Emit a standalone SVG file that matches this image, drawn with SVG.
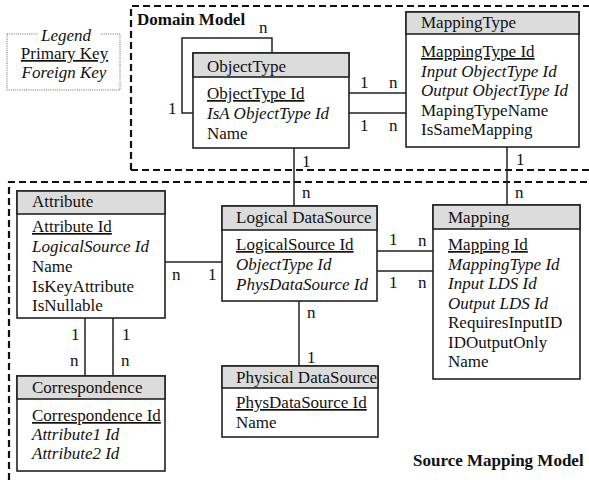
<svg xmlns="http://www.w3.org/2000/svg" width="589" height="480" viewBox="0 0 589 480">
<style>
text{font-family:"Liberation Serif","Times New Roman",serif;font-size:17px;fill:#111}
.it{font-style:italic}
.pk{text-decoration:underline}
.b{font-weight:bold}
.box{fill:#fff;stroke:#222;stroke-width:1.6}
.hdr{fill:#dcdcdc;stroke:#222;stroke-width:1.6}
.con{fill:none;stroke:#222;stroke-width:1.5}
.zone{fill:none;stroke:#111;stroke-width:2.2;stroke-dasharray:7 4}
</style>
<rect width="589" height="480" fill="#fff"/>
<g id="legend">
<rect x="7" y="34" width="113" height="56" fill="none" stroke="#666" stroke-width="1" stroke-dasharray="1 1.2"/>
<rect x="38" y="28" width="62" height="12" fill="#fff"/>
<text x="66" y="41" class="it" text-anchor="middle">Legend</text>
<text x="64.5" y="59" class="pk" text-anchor="middle">Primary Key</text>
<text x="64" y="78" class="it" text-anchor="middle">Foreign Key</text>
</g>
<g id="zones">
<path class="zone" d="M131,170 V6 H589 M131,170 H589"/>
<path class="zone" d="M9,480 V182 H589"/>
<text x="137" y="25" class="b">Domain Model</text>
<text x="413" y="466" class="b">Source Mapping Model</text>
</g>
<g id="connectors">
<path class="con" d="M272,53 V38 H182 V113 H193"/>
<path class="con" d="M349,93 H406 M349,113 H406"/>
<path class="con" d="M294,148 V206"/>
<path class="con" d="M507,147 V205"/>
<path class="con" d="M165,262 H222"/>
<path class="con" d="M377,251 H433 M377,271 H433"/>
<path class="con" d="M299,301 V366"/>
<path class="con" d="M85,318 V376 M113,318 V376"/>
<text x="259" y="33">n</text>
<text x="168" y="114">1</text>
<text x="360" y="88">1</text>
<text x="389" y="88">n</text>
<text x="360" y="131">1</text>
<text x="389" y="131">n</text>
<text x="302" y="167">1</text>
<text x="302" y="198">n</text>
<text x="516" y="165">1</text>
<text x="515" y="198">n</text>
<text x="172" y="280">n</text>
<text x="208" y="280">1</text>
<text x="389" y="245">1</text>
<text x="418" y="246">n</text>
<text x="389" y="288">1</text>
<text x="418" y="288">n</text>
<text x="307" y="318">n</text>
<text x="307" y="363">1</text>
<text x="71" y="340">1</text>
<text x="70" y="366">n</text>
<text x="122" y="340">1</text>
<text x="121" y="366">n</text>
</g>
<g id="ObjectType">
<rect class="box" x="193" y="53" width="156" height="95"/>
<rect class="hdr" x="193" y="53" width="156" height="24"/>
<text x="207" y="72">ObjectType</text>
<text x="207" y="99" class="pk">ObjectType Id</text>
<text x="207" y="119" class="it">IsA ObjectType Id</text>
<text x="207" y="139">Name</text>
</g>
<g id="MappingType">
<rect class="box" x="406" y="12" width="173" height="135"/>
<rect class="hdr" x="406" y="12" width="173" height="22"/>
<text x="421" y="28">MappingType</text>
<text x="421" y="57" class="pk">MappingType Id</text>
<text x="421" y="76.5" class="it">Input ObjectType Id</text>
<text x="421" y="96" class="it">Output ObjectType Id</text>
<text x="421" y="115.5">MapingTypeName</text>
<text x="421" y="135">IsSameMapping</text>
</g>
<g id="Attribute">
<rect class="box" x="17" y="191" width="148" height="127"/>
<rect class="hdr" x="17" y="191" width="148" height="23"/>
<text x="32" y="207">Attribute</text>
<text x="32" y="232" class="pk">Attribute Id</text>
<text x="32" y="252" class="it">LogicalSource Id</text>
<text x="32" y="272">Name</text>
<text x="32" y="291.5">IsKeyAttribute</text>
<text x="32" y="311">IsNullable</text>
</g>
<g id="LogicalDataSource">
<rect class="box" x="222" y="206" width="155" height="95"/>
<rect class="hdr" x="222" y="206" width="155" height="24"/>
<text x="236" y="223">Logical DataSource</text>
<text x="236" y="250" class="pk">LogicalSource Id</text>
<text x="236" y="270" class="it">ObjectType Id</text>
<text x="236" y="290" class="it">PhysDataSource Id</text>
</g>
<g id="Mapping">
<rect class="box" x="433" y="205" width="147" height="174"/>
<rect class="hdr" x="433" y="205" width="147" height="24"/>
<text x="448" y="223">Mapping</text>
<text x="448" y="250" class="pk">Mapping Id</text>
<text x="448" y="269.5" class="it">MappingType Id</text>
<text x="448" y="289" class="it">Input LDS Id</text>
<text x="448" y="308.5" class="it">Output LDS Id</text>
<text x="448" y="328">RequiresInputID</text>
<text x="448" y="347.5">IDOutputOnly</text>
<text x="448" y="367">Name</text>
</g>
<g id="Correspondence">
<rect class="box" x="17" y="376" width="148" height="95"/>
<rect class="hdr" x="17" y="376" width="148" height="23"/>
<text x="32" y="393">Correspondence</text>
<text x="32" y="421" class="pk">Correspondence Id</text>
<text x="32" y="440" class="it">Attribute1 Id</text>
<text x="32" y="459" class="it">Attribute2 Id</text>
</g>
<g id="PhysicalDataSource">
<rect class="box" x="222" y="366" width="156" height="71"/>
<rect class="hdr" x="222" y="366" width="156" height="22"/>
<text x="236" y="383">Physical DataSource</text>
<text x="236" y="408" class="pk">PhysDataSource Id</text>
<text x="236" y="428">Name</text>
</g>
</svg>
